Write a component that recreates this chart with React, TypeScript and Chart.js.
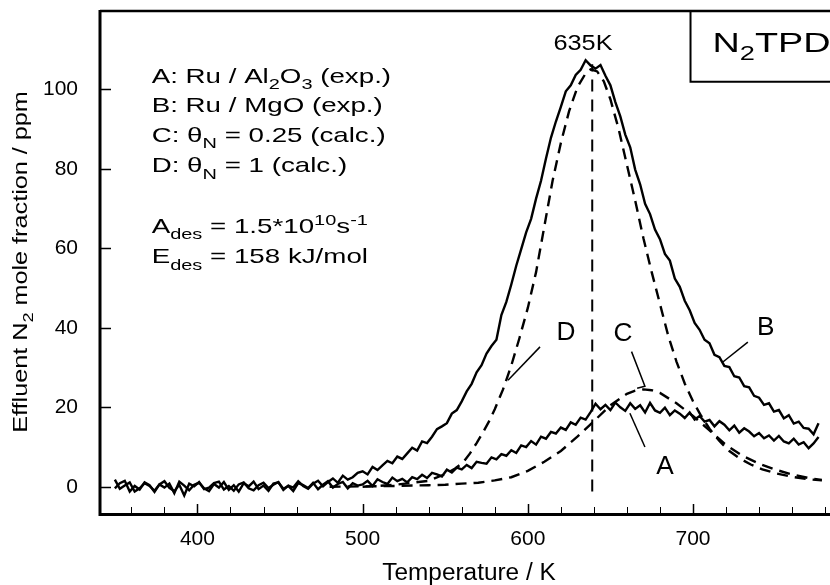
import React, { useEffect, useRef } from 'react';
import { Chart, registerables } from 'chart.js';

Chart.register(...registerables);

const FONT = '"Liberation Sans", Arial, Helvetica, sans-serif';

// ---- axes ----
const X_MIN = 341;
const X_MAX = 789;
const Y_MIN = -6.6;
const Y_MAX = 119.7;
const xMajorTicks = [400, 500, 600, 700];
const xMinorTicks = [360, 380, 420, 440, 460, 480, 520, 540, 560, 580, 620, 640, 660, 680, 720, 740, 760, 780];
const yTicks = [0, 20, 40, 60, 80, 100];

// ---- experimental curves, sampled from 350 K every 3 K ----
const T_START = 350;
const T_STEP = 3;
const seriesB = [
  1.8, -0.5, 0.3, 1.1, -1.2, -0.4, 0.9, 0.2, -1.0, 0.6,
  1.4, -0.3, -1.1, 0.5, -2.2, 0.8, 0.1, 1.2, -0.6, -0.2,
  0.9, 1.3, -0.7, 0.2, -1.0, 0.6, 1.1, -0.4, -0.9, 0.4,
  1.0, -0.3, 0.5, 1.2, -0.8, 0.3, -0.2, 1.4, 0.2, -0.5,
  0.8, 1.5, 0.1, 1.2, 2.1, 1.0, 2.8, 1.8, 2.4, 3.5,
  3.9, 3.1, 5.0, 4.2, 5.4, 6.5, 5.9, 7.6, 7.0, 8.4,
  9.8, 9.1, 11.4, 11.0, 12.6, 14.5, 15.2, 16.0, 18.4, 19.3,
  21.5, 24.0, 25.9, 28.8, 30.6, 33.5, 35.4, 37.0, 43.2, 46.5,
  50.9, 55.6, 59.8, 64.0, 67.4, 72.5, 77.0, 82.6, 87.8, 91.9,
  95.6, 99.5, 101.0, 103.6, 104.9, 107.3, 106.0, 105.2, 106.1, 103.4,
  101.0, 96.8, 93.2, 88.6, 85.4, 79.8, 76.1, 71.2, 68.6, 64.7,
  62.3, 58.6, 56.9, 52.4, 50.3, 46.8, 44.4, 41.2, 39.5, 37.0,
  36.1, 33.2, 32.6, 30.4, 30.1, 27.8, 27.5, 25.3, 25.0, 22.9,
  22.4, 20.6, 21.0, 18.9, 19.3, 17.2, 18.0, 15.9, 16.4, 14.8,
  14.6, 13.2, 16.0,
];
const seriesA = [
  -0.4, 0.9, 1.5, -1.2, 0.2, -0.7, 1.1, 0.4, -1.3, 0.6,
  -0.2, 0.8, -1.6, 1.3, 0.3, -0.9, 0.5, 1.0, -0.4, -1.1,
  0.7, -0.2, 1.2, -0.8, 0.4, -1.2, 0.9, 0.1, 1.3, -0.6,
  0.3, -1.0, 0.8, 1.1, -0.5, 0.2, -1.1, 0.9, 0.4, -0.3,
  1.0, -0.6, 0.5, 1.4, -0.2, 0.7, 1.2, -0.4, 0.9, 0.3,
  0.6, 1.5, 0.2, 1.9, 1.2, 0.7, 2.3, 1.4, 2.0, 1.1,
  2.4, 1.9, 3.0, 2.2, 3.5, 3.1, 2.6, 4.3, 3.6, 4.8,
  4.4, 5.5, 4.7, 6.3, 6.0, 5.8, 7.4, 6.9, 8.2, 7.8,
  9.2, 8.5, 10.4, 10.0, 11.5, 10.6, 12.6, 12.1, 13.8, 13.4,
  14.9, 14.3, 16.2, 15.6, 17.4, 16.9, 18.8, 20.9, 19.5, 20.6,
  19.3, 21.2, 20.0, 19.1, 21.0, 19.6, 20.5, 18.7, 21.1, 19.2,
  18.6, 19.9, 18.0, 19.2, 18.4, 17.3, 18.7, 16.9, 17.8, 16.4,
  16.8, 15.2, 16.5, 15.6, 14.2, 15.4, 13.6, 14.7, 13.9, 12.7,
  13.5, 12.2, 12.9, 11.6, 12.8, 11.4, 10.9, 12.1, 10.6, 11.2,
  9.7, 10.9, 12.5,
];

// ---- calculated curves ----
const calcC_T = [480, 500, 520, 540, 550, 560, 570, 580, 590, 600, 610, 620, 630, 640, 650, 660, 665, 670, 675, 680, 690, 700, 710, 720, 730, 740, 750, 760, 770, 778];
const calcC = [0, 0.1, 0.2, 0.4, 0.5, 0.8, 1.0, 1.6, 2.4, 4.0, 6.3, 9.0, 12.6, 16.5, 20.5, 23.4, 24.2, 24.5, 24.3, 23.6, 21.0, 17.8, 14.2, 10.5, 7.8, 5.8, 4.3, 3.1, 2.2, 1.7];
const calcD_T = [500, 520, 540, 550, 556, 561, 565, 569, 573, 577, 580, 585, 590, 595, 600, 605, 610, 615, 620, 625, 630, 635, 638, 642, 646, 650, 655, 660, 665, 670, 675, 680, 685, 690, 695, 700, 705, 710, 716, 722, 728, 735, 742, 750, 760, 770, 778];
const calcD = [0, 0.5, 1.5, 3.2, 4.6, 6.2, 8.4, 11, 13.8, 16.8, 19.5, 24.5, 30.5, 37.5, 45, 54, 65.5, 77, 86.5, 94.5, 100.5, 104, 105, 104.5, 102, 97.5, 90, 81, 72, 62.5, 54, 46, 38, 31.5, 26, 21.5, 17.8, 14.6, 11.5, 9.0, 7.2, 5.6, 4.4, 3.4, 2.5, 1.9, 1.6];

// ---- peak marker ----
const peakT = 639;
const peakLineY = [-1.2, 106.3];
const peakLabel = '635K';

// ---- leader lines (data coordinates) ----
const leaderD_T = [607.4, 588];
const leaderD_Y = [35.2, 26.8];
const leaderC_T = [662.8, 670.9, 666.2];
const leaderC_Y = [34.0, 25.3, 24.8];
const leaderA_T = [670.9, 661.8];
const leaderA_Y = [10.0, 18.5];
const leaderB_T = [733.2, 718.1];
const leaderB_Y = [36.4, 31.4];

const curveLabelText = ['D', 'C', 'A', 'B'];
const curveLabelT = [623.1, 657.6, 683.0, 744.1];
const curveLabelY = [39.2, 38.9, 5.5, 40.4];

type Seg = { t: string; k?: 'sub' | 'sup' };

const legendLines: Seg[][] = [
  [{ t: 'A: Ru / Al' }, { t: '2', k: 'sub' }, { t: 'O' }, { t: '3', k: 'sub' }, { t: ' (exp.)' }],
  [{ t: 'B: Ru / MgO (exp.)' }],
  [{ t: 'C: \u03B8' }, { t: 'N', k: 'sub' }, { t: ' = 0.25 (calc.)' }],
  [{ t: 'D: \u03B8' }, { t: 'N', k: 'sub' }, { t: ' = 1 (calc.)' }],
  [{ t: 'A' }, { t: 'des', k: 'sub' }, { t: ' = 1.5*10' }, { t: '10', k: 'sup' }, { t: 's' }, { t: '-1', k: 'sup' }],
  [{ t: 'E' }, { t: 'des', k: 'sub' }, { t: ' = 158 kJ/mol' }],
];
const legendBaselineY = [101.6, 94.3, 86.7, 79.1, 63.8, 56.2];
const legendLeftT = 372.3;

const boxLeftT = 698.5;
const boxBottomY = 101.9;
const boxTitle: Seg[] = [{ t: 'N' }, { t: '2', k: 'sub' }, { t: 'TPD' }];

const xTitle: Seg[] = [{ t: 'Temperature / K' }];
const yTitle: Seg[] = [{ t: 'Effluent N' }, { t: '2', k: 'sub' }, { t: ' mole fraction / ppm' }];

function pts(xs: number[], ys: number[]) {
  return xs.map((x, i) => ({ x, y: ys[i] }));
}
function sampled(vals: number[]) {
  return vals.map((y, i) => ({ x: T_START + T_STEP * i, y }));
}

function segFont(size: number, k?: string) {
  return `${k ? size * 0.72 : size}px ${FONT}`;
}
function richWidth(ctx: CanvasRenderingContext2D, segs: Seg[], size: number) {
  let w = 0;
  for (const s of segs) {
    ctx.font = segFont(size, s.k);
    w += ctx.measureText(s.t).width;
  }
  return w;
}
function drawRich(ctx: CanvasRenderingContext2D, segs: Seg[], x: number, y: number, size: number, sx: number, align: 'left' | 'center', rotate = 0) {
  ctx.save();
  ctx.translate(x, y);
  if (rotate) ctx.rotate(rotate);
  ctx.scale(sx, 1);
  ctx.fillStyle = '#000';
  ctx.textBaseline = 'alphabetic';
  ctx.textAlign = 'left';
  const w = richWidth(ctx, segs, size);
  let cx = align === 'center' ? -w / 2 : 0;
  for (const s of segs) {
    ctx.font = segFont(size, s.k);
    const dy = s.k === 'sub' ? size * 0.3 : s.k === 'sup' ? -size * 0.4 : 0;
    ctx.fillText(s.t, cx, dy);
    cx += ctx.measureText(s.t).width;
  }
  ctx.restore();
}

const decorPlugin = {
  id: 'decor',
  afterDraw(chart: any) {
    const ctx: CanvasRenderingContext2D = chart.ctx;
    const xs = chart.scales.x;
    const ys = chart.scales.y;
    const ca = chart.chartArea;
    ctx.save();
    ctx.strokeStyle = '#000';
    ctx.lineCap = 'butt';
    // frame
    ctx.lineWidth = 3;
    ctx.beginPath();
    ctx.moveTo(ca.left, ca.top - 1);
    ctx.lineTo(ca.left, ca.bottom + 1.5);
    ctx.lineTo(ca.right, ca.bottom + 1.5);
    ctx.stroke();
    ctx.lineWidth = 2.5;
    ctx.beginPath();
    ctx.moveTo(ca.left, ca.top);
    ctx.lineTo(ca.right, ca.top);
    ctx.stroke();
    // ticks inside
    ctx.lineWidth = 1.5;
    ctx.beginPath();
    for (const v of xMajorTicks) {
      const px = Math.round(xs.getPixelForValue(v)) + 0.5;
      ctx.moveTo(px, ca.bottom);
      ctx.lineTo(px, ca.bottom - 9);
    }
    for (const v of yTicks) {
      const py = Math.round(ys.getPixelForValue(v)) + 0.5;
      ctx.moveTo(ca.left, py);
      ctx.lineTo(ca.left + 11, py);
    }
    ctx.stroke();
    ctx.lineWidth = 1;
    ctx.beginPath();
    for (const v of xMinorTicks) {
      const px = Math.round(xs.getPixelForValue(v)) + 0.5;
      ctx.moveTo(px, ca.bottom);
      ctx.lineTo(px, ca.bottom - 6);
    }
    ctx.stroke();
    // N2TPD box
    const bx = xs.getPixelForValue(boxLeftT);
    const by = ys.getPixelForValue(boxBottomY);
    ctx.lineWidth = 2;
    ctx.beginPath();
    ctx.moveTo(bx, ca.top);
    ctx.lineTo(bx, by);
    ctx.lineTo(ca.right, by);
    ctx.stroke();
    ctx.restore();

    // texts
    drawRich(ctx, boxTitle, bx + 22, ca.top + 41, 27, 1.4, 'left');
    drawRich(ctx, [{ t: peakLabel }], xs.getPixelForValue(633.4), ys.getPixelForValue(112) + 8, 22, 1.15, 'center');
    const lx = xs.getPixelForValue(legendLeftT);
    legendLines.forEach((segs, i) => {
      drawRich(ctx, segs, lx, ys.getPixelForValue(legendBaselineY[i]), 21, 1.32, 'left');
    });
    curveLabelText.forEach((t, i) => {
      drawRich(ctx, [{ t }], xs.getPixelForValue(curveLabelT[i]), ys.getPixelForValue(curveLabelY[i]) + 9, 25, 1.05, 'center');
    });
    // axis titles
    drawRich(ctx, xTitle, (ca.left + ca.right) / 2 - 1, 580, 23, 1.06, 'center');
    drawRich(ctx, yTitle, 27, (ca.top + ca.bottom) / 2, 21, 1.2, 'center', -Math.PI / 2);
  },
};

export default function App() {
  const ref = useRef<HTMLCanvasElement | null>(null);
  useEffect(() => {
    if (!ref.current) return;
    const black = '#000';
    const line = (data: any[], width: number, dash: number[] = []) => ({
      data,
      borderColor: black,
      borderWidth: width,
      borderDash: dash,
      pointRadius: 0,
      fill: false,
      tension: 0,
    });
    const chart = new Chart(ref.current, {
      type: 'line',
      data: {
        datasets: [
          line(pts(calcC_T, calcC), 2.4, [11, 7]),
          line(pts(calcD_T, calcD), 2.4, [11, 7]),
          line(pts([peakT, peakT], peakLineY), 2, [12, 8]),
          line(sampled(seriesA), 2.4),
          line(sampled(seriesB), 2.4),
          line(pts(leaderD_T, leaderD_Y), 1.5),
          line(pts(leaderC_T, leaderC_Y), 1.5),
          line(pts(leaderA_T, leaderA_Y), 1.5),
          line(pts(leaderB_T, leaderB_Y), 1.5),
        ] as any,
      },
      options: {
        animation: false,
        responsive: false,
        devicePixelRatio: 1,
        events: [],
        layout: { padding: { left: 0, right: 20, top: 11, bottom: 0 } },
        plugins: { legend: { display: false }, tooltip: { enabled: false } },
        scales: {
          x: {
            type: 'linear',
            min: X_MIN,
            max: X_MAX,
            grid: { display: false, drawTicks: false },
            border: { display: false },
            ticks: { font: { family: FONT, size: 21 }, color: '#000', padding: 14, maxRotation: 0, autoSkip: false },
            afterBuildTicks: (s: any) => { s.ticks = xMajorTicks.map((v) => ({ value: v })); },
            afterFit: (s: any) => { s.height = 72; s.paddingLeft = 0; s.paddingRight = 0; },
          },
          y: {
            type: 'linear',
            min: Y_MIN,
            max: Y_MAX,
            grid: { display: false, drawTicks: false },
            border: { display: false },
            ticks: { font: { family: FONT, size: 21 }, color: '#000', padding: 22, autoSkip: false },
            afterBuildTicks: (s: any) => { s.ticks = yTicks.map((v) => ({ value: v })); },
            afterFit: (s: any) => { s.width = 100; s.paddingTop = 0; s.paddingBottom = 0; },
          },
        },
      },
      plugins: [decorPlugin],
    });
    return () => chart.destroy();
  }, []);
  return (
    <div style={{ position: 'fixed', left: 0, top: 0, width: 860, height: 585, background: '#fff', overflow: 'hidden' }}>
      <canvas ref={ref} width={860} height={585} style={{ width: 860, height: 585, display: 'block' }} />
    </div>
  );
}
